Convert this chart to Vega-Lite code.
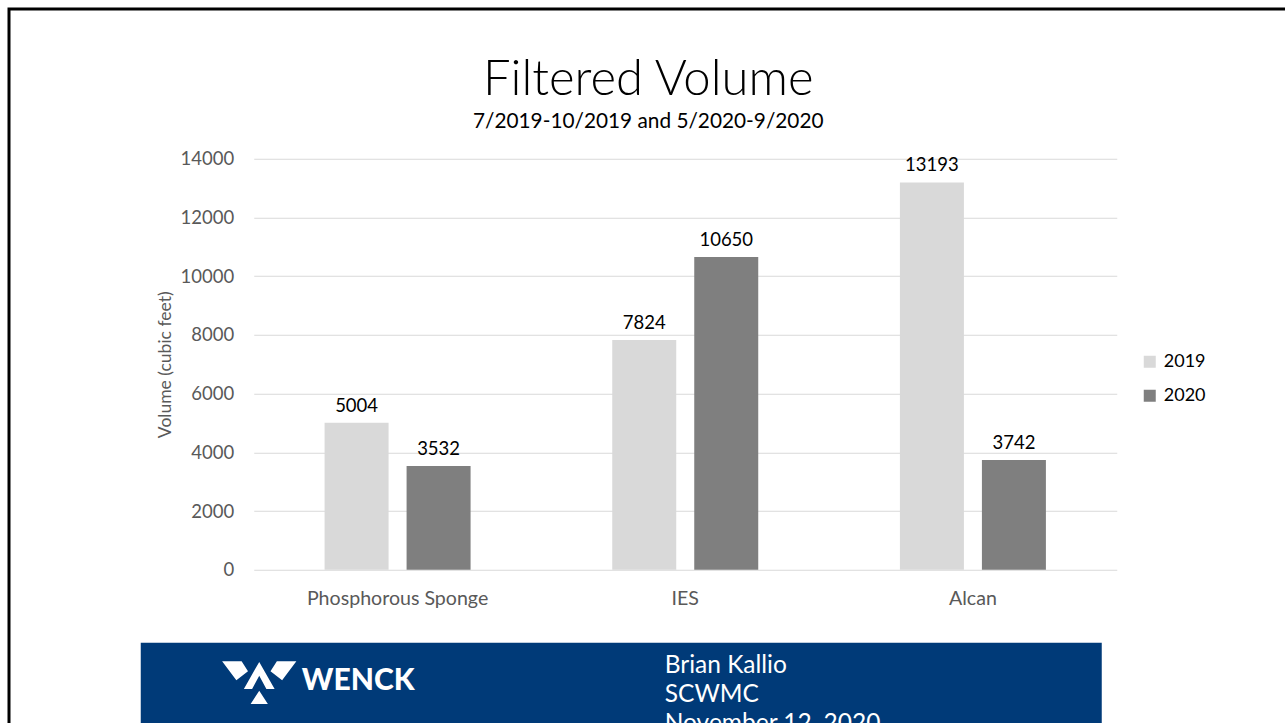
{
  "$schema": "https://vega.github.io/schema/vega-lite/v6.json",
  "background": "white",
  "padding": {"left": 6.75, "top": 6.75, "right": 0, "bottom": 0},
  "autosize": {"type": "pad"},
  "config": {"view": {"stroke": null}, "font": "Lato", "legend": {"strokeWidth": 3}},
  "resolve": {"scale": {"x": "independent", "y": "independent", "color": "independent", "opacity": "independent"}},
  "bounds": "flush",
  "spacing": 73,
  "vconcat": [
    {
      "width": 976,
      "height": 411,
      "title": {
        "text": "Filtered Volume",
        "subtitle": "7/2019-10/2019 and 5/2020-9/2020",
        "anchor": "middle",
        "frame": "group",
        "dx": 19.5,
        "offset": 18.25,
        "font": "Lato",
        "fontSize": 49,
        "fontWeight": 300,
        "color": "black",
        "subtitleFont": "Lato",
        "subtitleFontSize": 20.8,
        "subtitleFontWeight": "normal",
        "subtitleColor": "black",
        "subtitlePadding": 7
      },
      "data": {
        "values": [
          {"site": "Phosphorous Sponge", "year": "2019", "volume": 5004},
          {"site": "Phosphorous Sponge", "year": "2020", "volume": 3532},
          {"site": "IES", "year": "2019", "volume": 7824},
          {"site": "IES", "year": "2020", "volume": 10650},
          {"site": "Alcan", "year": "2019", "volume": 13193},
          {"site": "Alcan", "year": "2020", "volume": 3742}
        ]
      },
      "encoding": {
        "x": {
          "field": "site",
          "type": "nominal",
          "sort": null,
          "scale": {"range": [113, 976], "paddingInner": 0, "paddingOuter": 0},
          "axis": {
            "title": null,
            "labelAngle": 0,
            "domain": false,
            "ticks": false,
            "tickSize": 0,
            "grid": false,
            "labelPadding": 20,
            "labelLimit": 400,
            "labelFont": "Lato",
            "labelFontSize": 19.6,
            "labelColor": "#595959"
          }
        },
        "xOffset": {
          "field": "year",
          "type": "nominal",
          "sort": ["2019", "2020"],
          "scale": {"paddingInner": 0.2195, "paddingOuter": 0.864}
        },
        "y": {
          "field": "volume",
          "type": "quantitative",
          "scale": {"domain": [0, 14000], "nice": false},
          "axis": {
            "values": [0, 2000, 4000, 6000, 8000, 10000, 12000, 14000],
            "format": "d",
            "title": "Volume (cubic feet)",
            "offset": -113,
            "domain": false,
            "ticks": false,
            "tickSize": 0,
            "labelPadding": 20,
            "labelFont": "Lato",
            "labelFontSize": 18.5,
            "labelColor": "#595959",
            "grid": true,
            "gridColor": "#d9d9d9",
            "gridWidth": 1,
            "titleFont": "Lato",
            "titleFontSize": 17.5,
            "titleFontWeight": "normal",
            "titleColor": "#595959",
            "titlePadding": 6
          }
        }
      },
      "layer": [
        {
          "mark": {"type": "bar"},
          "encoding": {
            "color": {
              "field": "year",
              "type": "nominal",
              "scale": {"domain": ["2019", "2020"], "range": ["#d9d9d9", "#7f7f7f"]},
              "legend": {
                "title": null,
                "orient": "none",
                "legendX": 1000,
                "legendY": 194,
                "symbolType": "square",
                "symbolSize": 144,
                "symbolStrokeWidth": 0,
                "labelFont": "Lato",
                "labelFontSize": 18,
                "labelColor": "black",
                "labelOffset": 5,
                "rowPadding": 16,
                "padding": 0
              }
            }
          }
        },
        {
          "mark": {"type": "text", "dy": -11, "baseline": "alphabetic", "font": "Lato", "fontSize": 18.5, "color": "black"},
          "encoding": {"text": {"field": "volume", "type": "quantitative", "format": "d"}}
        }
      ]
    },
    {
      "width": 961,
      "height": 90,
      "view": {"fill": "#003a78", "stroke": null},
      "encoding": {
        "x": {
          "field": "block",
          "type": "nominal",
          "scale": {"type": "point", "domain": ["logo", "info"], "padding": 0.685, "align": 0.2133},
          "axis": null
        }
      },
      "layer": [
        {
          "data": {
            "values": [
              {"block": "info", "line": 1, "text": "Brian Kallio"},
              {"block": "info", "line": 2, "text": "SCWMC"},
              {"block": "info", "line": 3, "text": "November 12, 2020"}
            ]
          },
          "mark": {"type": "text", "align": "left", "baseline": "alphabetic", "font": "Lato", "fontSize": 24.5, "color": "white"},
          "encoding": {
            "y": {"field": "line", "type": "ordinal", "scale": {"type": "point", "padding": 0.552, "align": 0.9375}, "axis": null},
            "text": {"field": "text"},
            "opacity": {
              "field": "block",
              "type": "nominal",
              "scale": {"type": "point", "range": [1, 1]},
              "legend": {
                "title": null,
                "orient": "none",
                "legendX": -131.75,
                "legendY": -633.75,
                "padding": 760,
                "strokeColor": "black",
                "symbolSize": 0,
                "symbolStrokeWidth": 0,
                "symbolOpacity": 0,
                "labelOpacity": 0,
                "labelFontSize": 10
              }
            }
          }
        },
        {
          "data": {"values": [{"block": "logo"}]},
          "mark": {
            "type": "point",
            "shape": "M-0.99,-0.71L-0.47,-0.71L-0.3,-0.44L-0.61,-0.2Z M0.99,-0.71L0.47,-0.71L0.3,-0.44L0.61,-0.2Z M-0.41,0.03L0,-0.69L0.41,0.03L0.19,0.03L0,-0.32L-0.19,0.03Z M-0.23,0.43L0,0.08L0.23,0.43Z",
            "size": 5625,
            "filled": true,
            "fill": "white",
            "opacity": 1,
            "strokeWidth": 0
          }
        },
        {
          "data": {"values": [{"block": "logo", "text": "WENCK"}]},
          "mark": {"type": "text", "align": "left", "baseline": "alphabetic", "dx": 42.5, "dy": 2, "font": "Lato", "fontSize": 30, "fontWeight": 900, "color": "white"},
          "encoding": {"text": {"field": "text"}}
        }
      ]
    }
  ]
}
